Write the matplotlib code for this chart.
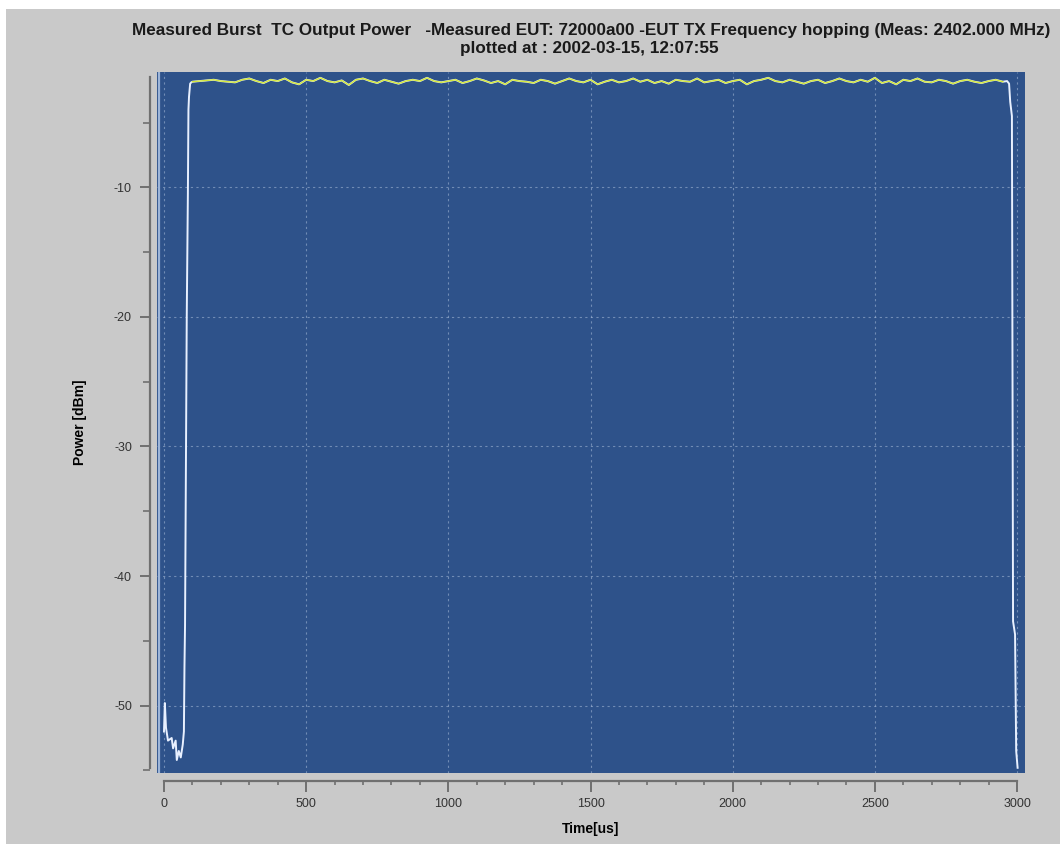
"""
Burst output power trace (white) with smoothed top level (yellow)
"""

import matplotlib as mpl
import matplotlib.pyplot as plt
import numpy as np
from matplotlib.lines import Line2D
from matplotlib.patches import Rectangle
from matplotlib.ticker import MultipleLocator

mpl.use("Agg")
plt.rcParams["axes.unicode_minus"] = False
plt.rcParams["font.family"] = ["Liberation Sans", "DejaVu Sans"]

# Data
rise_time = [0, 3, 7, 14, 27, 32, 41, 45, 52, 59, 66, 70, 72, 74, 80, 84, 86, 88, 92, 96]
rise_power = [-52.0, -49.8, -51.7, -52.7, -52.5, -53.3, -52.7, -54.2, -53.5, -54.0,
              -53.0, -52.0, -47.0, -43.8, -20.0, -10.5, -4.0, -3.0, -2.0, -1.9]

top_start = 100.0
top_step = 25.0
yellow_power = [
    -1.85, -1.80, -1.75, -1.70, -1.80, -1.85, -1.90, -1.70, -1.60, -1.80,
    -1.95, -1.70, -1.80, -1.60, -1.90, -2.05, -1.70, -1.80, -1.55, -1.80,
    -1.90, -1.75, -2.10, -1.70, -1.60, -1.80, -1.95, -1.70, -1.85, -2.00,
    -1.80, -1.70, -1.80, -1.55, -1.80, -1.90, -1.80, -1.70, -1.95, -1.80,
    -1.60, -1.75, -1.95, -1.80, -2.05, -1.70, -1.80, -1.85, -1.95, -1.70,
    -1.80, -2.00, -1.80, -1.60, -1.80, -1.90, -1.70, -2.05, -1.85, -1.70,
    -1.90, -1.80, -1.60, -1.85, -1.70, -1.95, -1.80, -2.00, -1.70, -1.80,
    -1.85, -1.60, -1.90, -1.80, -1.70, -1.95, -1.80, -1.70, -2.05, -1.80,
    -1.70, -1.55, -1.80, -1.90, -1.70, -1.85, -2.00, -1.80, -1.70, -1.95,
    -1.80, -1.60, -1.80, -1.90, -1.70, -1.85, -1.55, -1.95, -1.80, -2.05,
    -1.70, -1.80, -1.60, -1.85, -1.90, -1.70, -1.80, -2.00, -1.80, -1.70,
    -1.85, -1.95, -1.80, -1.70, -1.85,
]
yellow_time = top_start + top_step * np.arange(len(yellow_power))

fall_time = [2965, 2972, 2976, 2982, 2983, 2986, 2993, 2997, 3002]
fall_power = [-1.8, -2.0, -3.4, -4.5, -13.4, -43.5, -44.5, -53.5, -54.8]

white_time = np.concatenate([rise_time, yellow_time, fall_time])
white_power = np.concatenate([rise_power, yellow_power, fall_power])

x_ticks = [0, 500, 1000, 1500, 2000, 2500, 3000]
y_ticks = [-50, -40, -30, -20, -10]

# Colors
bg_gray = "#C9C9C9"
plot_blue = "#2E528A"
axis_gray = "#707070"
grid_col = "#A9BCD9"

fig = plt.figure(figsize=(10.6, 8.44), dpi=100, facecolor="white")
fig.patches.append(
    Rectangle((0.006, 0), 0.994, 1 - 9 / 844, transform=fig.transFigure,
              facecolor=bg_gray, edgecolor="none", zorder=-10)
)

ax = fig.add_axes([157 / 1060, 1 - 773 / 844, 868 / 1060, 701 / 844])
ax.set_facecolor(plot_blue)
ax.set_xlim(-24.6, 3028)
ax.set_ylim(-55.2, -1.1)

# Detached axes, like the instrument software
for side in ["top", "right"]:
    ax.spines[side].set_visible(False)
ax.spines["left"].set_position(("outward", 5))
ax.spines["bottom"].set_position(("outward", 6))
ax.spines["left"].set_bounds(-54.8, -1.5)
ax.spines["bottom"].set_bounds(0, 3000)
for side in ["left", "bottom"]:
    ax.spines[side].set_color(axis_gray)
    ax.spines[side].set_linewidth(1.6)

ax.set_xticks(x_ticks)
ax.set_yticks(y_ticks)
ax.xaxis.set_minor_locator(MultipleLocator(100))
ax.yaxis.set_minor_locator(MultipleLocator(5))
ax.tick_params(axis="y", which="major", length=7, width=1.4, color=axis_gray,
               labelsize=9, labelcolor="#333333", pad=6)
ax.tick_params(axis="y", which="minor", length=5, width=1.2, color=axis_gray)
ax.tick_params(axis="x", which="major", length=8, width=1.4, color=axis_gray,
               labelsize=9, labelcolor="#333333", pad=4)
ax.tick_params(axis="x", which="minor", length=3, width=1.2, color=axis_gray)

ax.grid(True, which="major", color=grid_col, linestyle=(0, (2, 3)), linewidth=0.8, alpha=0.55)
ax.set_axisbelow(True)

# light left edge of the plot area
ax.add_line(Line2D([0.002, 0.002], [0, 1], transform=ax.transAxes,
                   color="#9DB5D8", linewidth=1.6, zorder=1))

ax.plot(white_time, white_power, color="#E8F0FF", linewidth=1.4, zorder=3)
ax.plot(yellow_time, yellow_power, color="#D4E83A", linewidth=1.0, zorder=4)

ax.set_xlabel("Time[us]", fontsize=10, fontweight="bold")
ax.set_ylabel("Power [dBm]", fontsize=10, fontweight="bold")
ax.xaxis.set_label_coords(0.499, -0.070)
ax.yaxis.set_label_coords(-0.081, 0.5)

fig.text(0.558, 1 - 30 / 844,
         "Measured Burst  TC Output Power   -Measured EUT: 72000a00 -EUT TX Frequency hopping (Meas: 2402.000 MHz)",
         ha="center", va="center", fontsize=12.3, fontweight="bold", color="#1A1A1A")
fig.text(0.556, 1 - 48 / 844, "plotted at : 2002-03-15, 12:07:55",
         ha="center", va="center", fontsize=12.3, fontweight="bold", color="#1A1A1A")

fig.savefig("out.png", dpi=100, facecolor=fig.get_facecolor())
print("Generated: out.png")
